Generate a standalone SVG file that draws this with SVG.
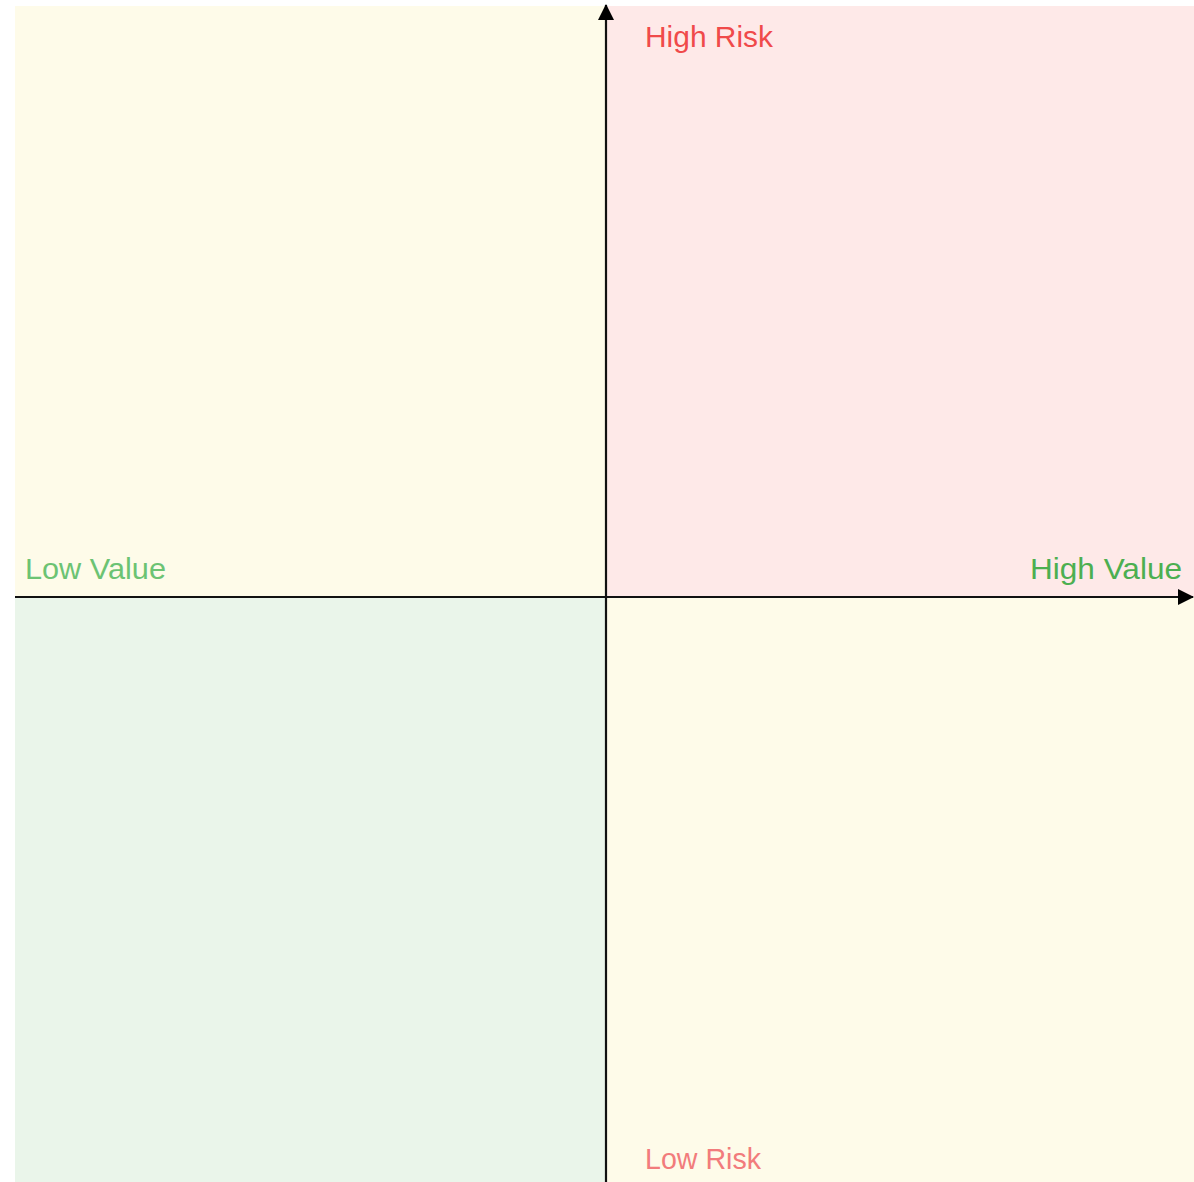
<svg xmlns="http://www.w3.org/2000/svg" width="1194" height="1182" viewBox="0 0 1194 1182">
<style>
.lbl{font-family:"Liberation Sans",Arial,sans-serif;font-size:29px}
.axis{stroke:#111;stroke-width:2.2;fill:none}
</style>
<defs>
<marker id="ah" markerWidth="16" markerHeight="16" refX="15" refY="8" orient="auto" markerUnits="userSpaceOnUse" viewBox="0 0 16 16"><path d="M0,0 L16,8 L0,16 z" fill="#000"/></marker>
</defs>
<rect width="1194" height="1182" fill="#fff"/>
<g id="q-top-left"><rect x="15" y="6" width="591" height="591" fill="#FEFBE9"/></g>
<g id="q-top-right"><rect x="606" y="6" width="588" height="591" fill="#FEE9E8"/></g>
<g id="q-bottom-left"><rect x="15" y="597" width="591" height="585" fill="#EAF5EA"/></g>
<g id="q-bottom-right"><rect x="606" y="597" width="588" height="585" fill="#FEFBE9"/></g>
<g id="connectors">
<line class="axis" x1="606" y1="1182" x2="606" y2="5" marker-end="url(#ah)"/>
<line class="axis" x1="15" y1="597" x2="1193" y2="597" marker-end="url(#ah)"/>
</g>
<g id="label-high-risk"><text class="lbl" x="645" y="47" fill="#F04A4A" textLength="128" lengthAdjust="spacingAndGlyphs">High Risk</text></g>
<g id="label-low-risk"><text class="lbl" x="645" y="1169" fill="#F27C7C" textLength="116" lengthAdjust="spacingAndGlyphs">Low Risk</text></g>
<g id="label-low-value"><text class="lbl" x="25" y="579" fill="#6CC373" textLength="141" lengthAdjust="spacingAndGlyphs">Low Value</text></g>
<g id="label-high-value"><text class="lbl" x="1030" y="579" fill="#4CAF50" textLength="152" lengthAdjust="spacingAndGlyphs">High Value</text></g>
</svg>
